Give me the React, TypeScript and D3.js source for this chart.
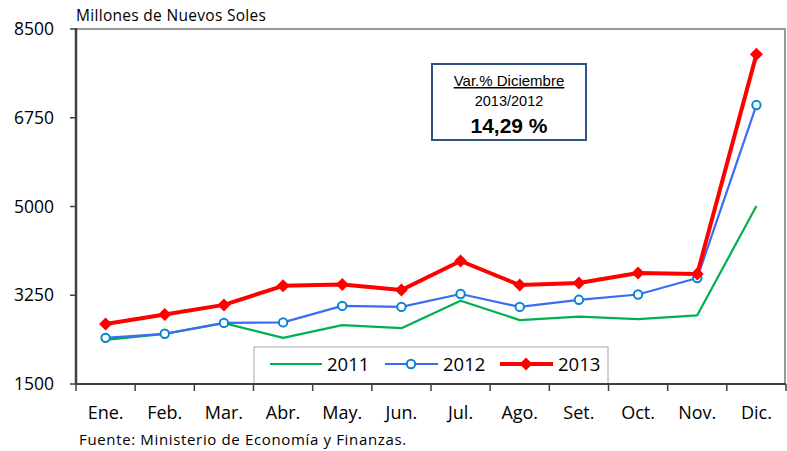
import React from 'react';
import * as d3 from 'd3';

const months = ['Ene.', 'Feb.', 'Mar.', 'Abr.', 'May.', 'Jun.', 'Jul.', 'Ago.', 'Set.', 'Oct.', 'Nov.', 'Dic.'];
const values2011 = [2370, 2490, 2700, 2410, 2660, 2600, 3140, 2760, 2830, 2780, 2855, 5010];
const values2012 = [2410, 2490, 2705, 2715, 3040, 3020, 3275, 3020, 3160, 3265, 3590, 7000];
const values2013 = [2685, 2870, 3060, 3435, 3460, 3355, 3925, 3450, 3490, 3690, 3670, 8000];
const yTicks = [1500, 3250, 5000, 6750, 8500];

const W = 787;
const H = 451;
const margin = { top: 29, right: 1, bottom: 67, left: 76 };
const font = '"Open Sans", Lato, sans-serif';
const arial = "'Liberation Sans', Arial, sans-serif";

const App = () => {
  const x = d3.scaleBand<string>()
    .domain(months)
    .range([margin.left, W - margin.right])
    .padding(0);
  const y = d3.scaleLinear()
    .domain([1500, 8500])
    .range([H - margin.bottom, margin.top]);

  const cx = (m: string) => (x(m) as number) + x.bandwidth() / 2;
  const line = d3.line<number>()
    .x((_, i) => cx(months[i]))
    .y(d => y(d));

  const x0 = margin.left;
  const x1 = W - margin.right;
  const y0 = y(1500);
  const y1 = y(8500);

  // tick boundaries between categories
  const bounds = months.map(m => x(m) as number).concat([x1]);

  const diamond = (px: number, py: number, r: number) =>
    `M${px},${py - r}L${px + r},${py}L${px},${py + r}L${px - r},${py}Z`;

  const lgY = 364;

  return (
    <div style={{ position: 'absolute', left: 0, top: 0 }}>
      <svg width={W} height={H} style={{ display: 'block', background: '#fff' }}>
        {/* frame (top & right) */}
        <line x1={x0} x2={x1} y1={y1} y2={y1} stroke="#9a9a9a" strokeWidth={2} />
        <line x1={x1 - 1} x2={x1 - 1} y1={y1} y2={y0} stroke="#9a9a9a" strokeWidth={2} />

        <text x={x0} y={21} fontFamily={font} fontSize={15.5} letterSpacing={0.3} fill="#000">Millones de Nuevos Soles</text>

        {/* y axis */}
        {yTicks.map(t => (
          <g key={t}>
            <line x1={x0 - 6} x2={x0} y1={y(t)} y2={y(t)} stroke="#404040" strokeWidth={1.5} />
            <text x={54} y={y(t) + 6} textAnchor="end" fontFamily={font} fontSize={17.5} fill="#000">{t}</text>
          </g>
        ))}

        {/* x ticks and labels */}
        {bounds.map((b, i) => (
          <line key={i} x1={b} x2={b} y1={y0} y2={y0 + 7} stroke="#404040" strokeWidth={1.5} />
        ))}
        {months.map(m => (
          <text key={m} x={cx(m)} y={419} textAnchor="middle" fontFamily={font} fontSize={18} fill="#000">{m}</text>
        ))}

        {/* series */}
        <path d={line(values2011) || ''} fill="none" stroke="#00b050" strokeWidth={2.2} strokeLinejoin="round" />
        <path d={line(values2012) || ''} fill="none" stroke="#3a6cf4" strokeWidth={2.2} strokeLinejoin="round" />
        {values2012.map((v, i) => (
          <circle key={i} cx={cx(months[i])} cy={y(v)} r={4.2} fill="#fff" stroke="#0a84d0" strokeWidth={2} />
        ))}
        <path d={line(values2013) || ''} fill="none" stroke="#ff0000" strokeWidth={4} strokeLinejoin="round" />
        {values2013.map((v, i) => (
          <path key={i} d={diamond(cx(months[i]), y(v), 6.5)} fill="#ff0000" />
        ))}

        {/* legend */}
        <rect x={254} y={347} width={354} height={y0 - 347} fill="#fff" stroke="#a6a6a6" strokeWidth={1} />
        <line x1={270} x2={322} y1={lgY} y2={lgY} stroke="#00b050" strokeWidth={2.2} />
        <text x={327} y={371} fontFamily={font} fontSize={18.5} fill="#000">2011</text>
        <line x1={385} x2={438} y1={lgY} y2={lgY} stroke="#3a6cf4" strokeWidth={2.2} />
        <circle cx={411} cy={lgY} r={4.2} fill="#fff" stroke="#0a84d0" strokeWidth={2} />
        <text x={443} y={371} fontFamily={font} fontSize={18.5} fill="#000">2012</text>
        <line x1={500} x2={553} y1={lgY} y2={lgY} stroke="#ff0000" strokeWidth={4} />
        <path d={diamond(526, lgY, 6.5)} fill="#ff0000" />
        <text x={558} y={371} fontFamily={font} fontSize={18.5} fill="#000">2013</text>

        {/* axes */}
        <line x1={x0} x2={x1} y1={y0} y2={y0} stroke="#404040" strokeWidth={2} />
        <line x1={x0} x2={x0} y1={y1 - 1} y2={y0 + 1} stroke="#404040" strokeWidth={2.5} />

        {/* annotation box */}
        <rect x={432} y={64} width={154} height={76} fill="#fff" stroke="#2f5283" strokeWidth={2} />
        <text x={509} y={86} textAnchor="middle" fontFamily={arial} fontSize={15} textDecoration="underline" fill="#000">Var.% Diciembre</text>
        <text x={509} y={106} textAnchor="middle" fontFamily={arial} fontSize={14.5} fill="#000">2013/2012</text>
        <text x={509} y={133} textAnchor="middle" fontFamily={arial} fontSize={21} fontWeight="bold" fill="#000">14,29 %</text>

        <text x={79} y={445} fontFamily={font} fontSize={15} letterSpacing={0.65} fill="#000">Fuente: Ministerio de Economía y Finanzas.</text>
      </svg>
    </div>
  );
};

export default App;
